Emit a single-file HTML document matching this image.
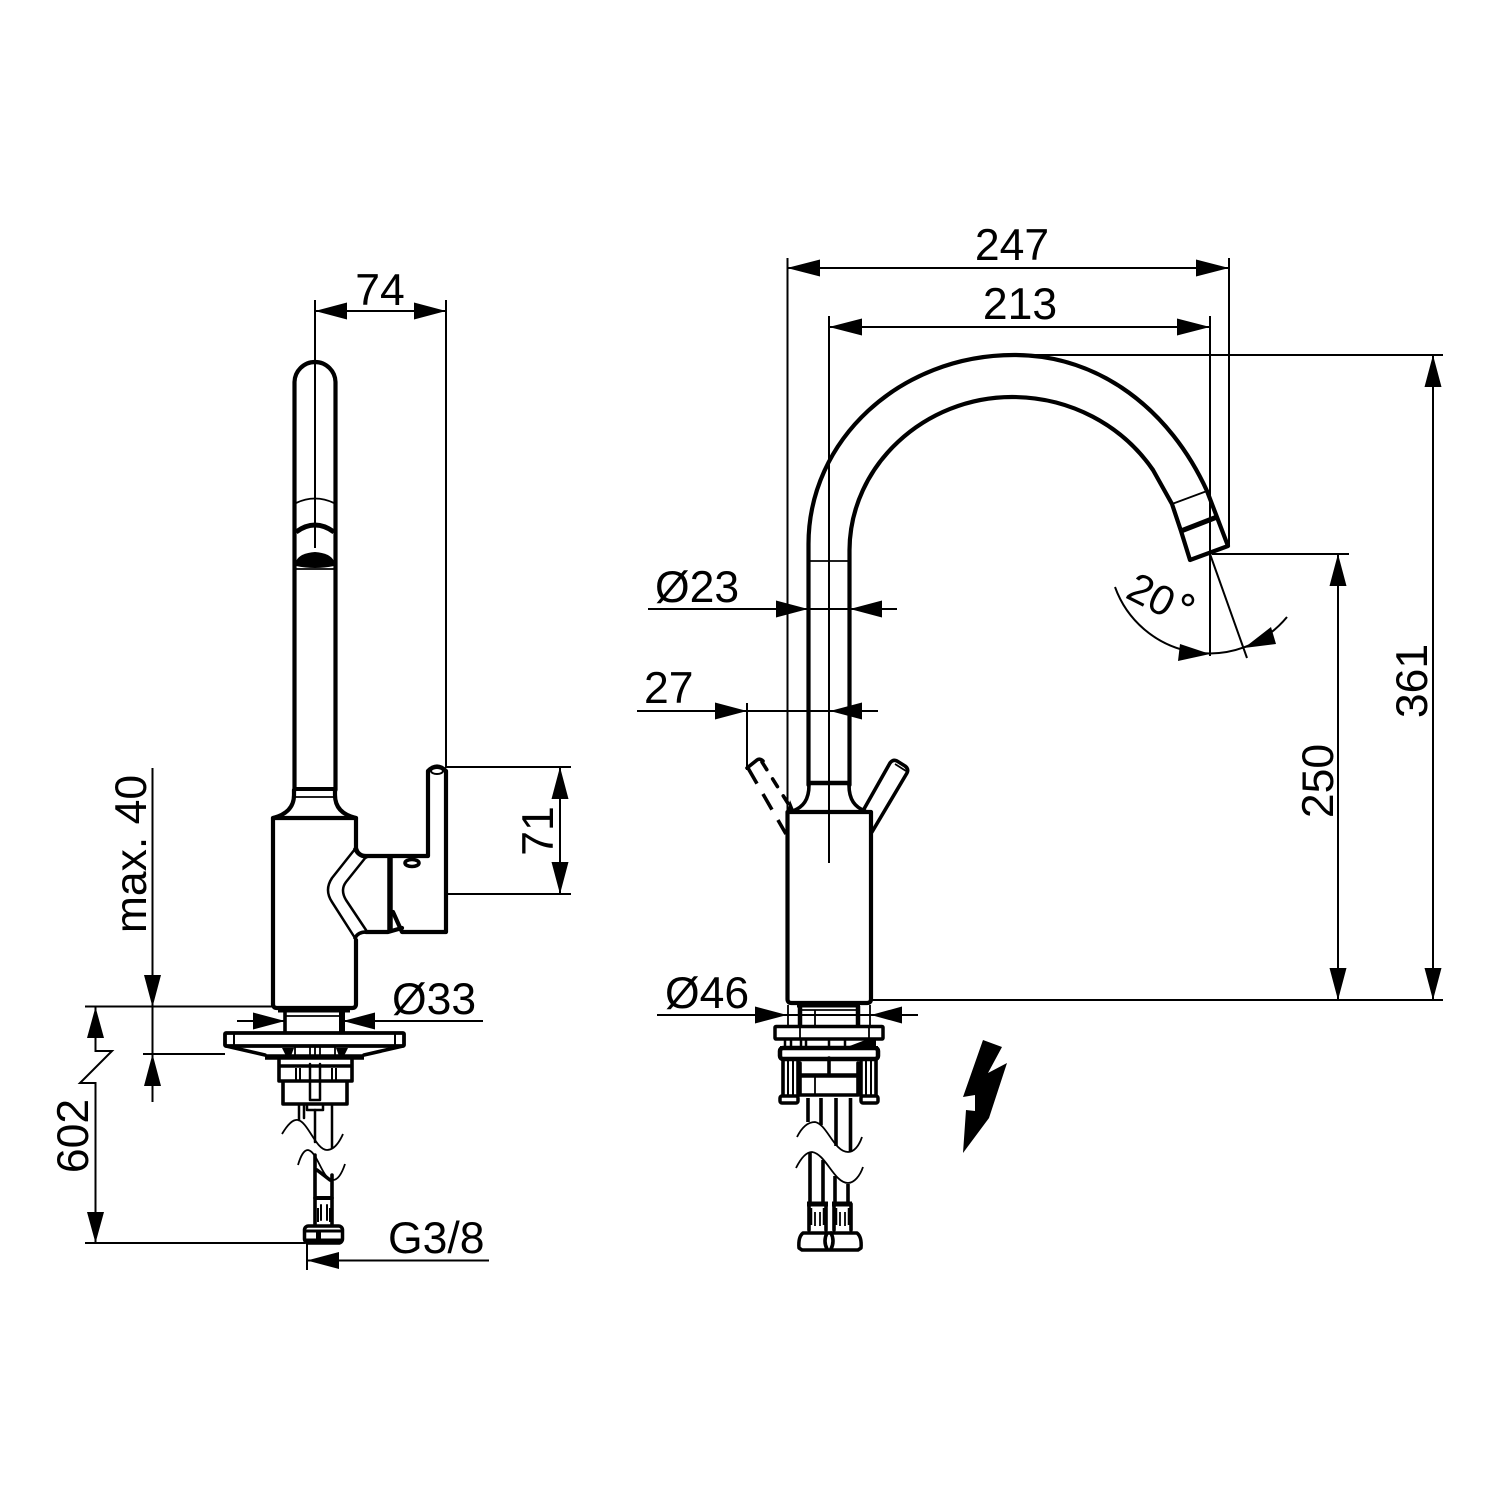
<!DOCTYPE html>
<html><head><meta charset="utf-8"><style>
html,body{margin:0;padding:0;background:#fff}
svg{display:block}
text{font-family:"Liberation Sans",sans-serif;font-size:44.500px;fill:#000}
.t{fill:none;stroke:#000;stroke-width:2}
.m{fill:none;stroke:#000;stroke-width:3.600;stroke-linejoin:round;stroke-linecap:round}
.w{fill:none;stroke:#000;stroke-width:1.800}
.a{fill:#000;stroke:none}
</style></head><body>
<svg width="1500" height="1500" viewBox="0 0 1500 1500" xmlns="http://www.w3.org/2000/svg">
<rect width="1500" height="1500" fill="#fff"/>

<!-- LEFT VIEW -->
<path class="m" style="stroke-width:4.200" d="M294.500 790V382.500a20.500 20.500 0 0 1 41 0V790"/>
<path class="t" d="M315 300V548"/>
<path class="w" d="M296 503Q315 494 334 503"/>
<path d="M296 532Q315 518 334 532" fill="none" stroke="#000" stroke-width="5"/>
<path class="a" d="M296 561Q300 553 315 552Q330 553 334 561L334 566Q315 570 296 566Z"/>
<path class="w" d="M296 569H334"/>
<path d="M294 789H335" stroke="#000" stroke-width="4"/>
<path class="w" d="M294 797H335"/>
<path class="m" style="stroke-width:4.200" d="M294 790V795C294 808 285 815 273 818M335 790V795C335 808 343 815 356 818"/>
<path class="m" style="stroke-width:4.200" d="M273 1004V818H356V848Q358 856 366 856H428V771Q437 762 446 771V932H402L393 912M366 932H388L402 928"/>
<path class="m" style="stroke-width:4.200" d="M356 940V1004Q356 1008 352 1008H277Q273 1008 273 1004"/>
<path d="M390 856V931" stroke="#000" stroke-width="5.500"/>
<ellipse cx="437" cy="771" rx="6" ry="3" class="t"/>
<ellipse cx="412" cy="863" rx="7" ry="3.500" class="m"/>
<path class="m" style="stroke-width:2.500" d="M355 849L332 878Q324 890 332 902L355 938M366 857L346 882Q340 890 346 900L366 930"/>
<path class="m" d="M355 849Q358 856 366 857M355 938Q358 932 366 932"/>

<!-- left base -->
<path d="M278 1010H350" stroke="#000" stroke-width="5"/>
<path class="m" d="M285 1010V1033"/>
<path d="M342 1012V1033" stroke="#000" stroke-width="6"/>
<path class="w" d="M286 1016H342"/>
<rect x="225" y="1033" width="179" height="13" rx="1" fill="#fff" stroke="#000" stroke-width="3.800"/>
<path class="t" d="M234 1033V1046M395 1033V1046"/>
<path class="m" d="M226 1046L265 1055M403 1046L364 1055"/>
<path d="M265 1057H364" stroke="#000" stroke-width="5.500"/>
<path class="a" d="M282 1048H294L291 1056H286ZM336 1048H348L344 1056H339Z"/>
<path class="w" d="M295 1047V1056M310 1047V1056M315 1047V1056M320 1047V1056M335 1047V1056"/>
<path class="m" d="M279 1060V1081H352V1060M283 1081V1104H347V1081"/>
<path d="M279 1066H352" stroke="#000" stroke-width="3.500"/>
<path class="t" d="M296 1068V1081M300 1068V1081M332 1068V1081M336 1068V1081"/>
<path class="m" style="stroke-width:2.500" d="M310 1064V1100H320V1064M307 1104V1110H323V1104"/>
<path class="m" style="stroke-width:2.500" d="M299 1105V1120M304 1105V1118M315 1110V1142M332 1105V1148"/>
<path class="w" d="M282 1134C288 1124 293 1119 298 1120C308 1122 316 1150 327 1150C334 1150 339 1143 343 1134"/>
<path class="m" d="M315 1155V1198M332 1175V1198M317 1170L330 1180"/>
<path class="w" d="M298 1165C301 1155 304 1150 308 1150C318 1152 322 1180 333 1180C338 1180 342 1173 345 1164"/>
<path d="M314 1198H333" stroke="#000" stroke-width="4"/>
<path class="m" d="M315 1198V1224M332 1198V1224"/>
<path class="m" style="stroke-width:2" d="M321 1205V1220M327 1205V1220"/>
<path d="M317 1208H319V1222H317ZM329 1208H331V1222H329Z" class="a"/>
<rect x="304.500" y="1226" width="38" height="17" rx="4" fill="#fff" stroke="#000" stroke-width="3.500"/>
<path d="M305 1231H342M305 1240H342" stroke="#000" stroke-width="3"/>
<path class="a" d="M316 1230H321V1241H316Z"/>

<!-- left dims -->
<path class="t" d="M315 311H446M446 300V768M446 767H571M446 894H571M560 767V894"/>
<path class="a" d="M315 311L347 302.500V319.500ZM446 311L414 302.500V319.500ZM560 767L551.500 799H568.500ZM560 894L551.500 862H568.500Z"/>
<text x="380" y="305" text-anchor="middle">74</text>
<text transform="translate(553 831) rotate(-90)" text-anchor="middle">71</text>
<text transform="translate(146 854) rotate(-90)" text-anchor="middle">max. 40</text>
<path class="t" d="M85 1006.500H273M143 1054H225M152.500 768V1102"/>
<path class="a" d="M152.500 1007L144 975H161ZM152.500 1054L144 1086H161Z"/>
<path class="t" d="M95.500 1007V1051H112L80 1083H95.500V1243M85 1243H305M307 1243V1270"/>
<path class="a" d="M95.500 1007L87 1038H104ZM95.500 1243L87 1212H104Z"/>
<text transform="translate(88 1136) rotate(-90)" text-anchor="middle">602</text>
<text x="388" y="1253">G3/8</text>
<path class="t" d="M307 1260.500H489"/>
<path class="a" d="M307 1260.500L339 1252V1269Z"/>
<text x="392" y="1014">Ø33</text>
<path class="t" d="M237 1021H285M343 1021H483"/>
<path class="a" d="M285 1021L253 1012.500V1029.500ZM343 1021L375 1012.500V1029.500Z"/>

<!-- RIGHT VIEW -->
<path class="m" style="stroke-width:4.200" d="M808.500 785V545C808 440 900 355 1014 355C1100 355 1170 410 1207 491L1228 546L1190 560L1181 531L1172 504L1153 470C1122 425 1070 397 1012 397C925 397 850 465 849.500 550V785"/>
<path class="w" d="M809 561H849"/>
<path class="w" d="M1172 504L1207 491"/>
<path d="M1181 531L1217 517" stroke="#000" stroke-width="5"/>
<path d="M808 783H850" stroke="#000" stroke-width="4.500"/>
<path class="m" d="M809 785C809 800 803 807 793 811M849 785C849 800 855 807 865 811"/>
<path class="m" style="stroke-width:4.200" d="M787.500 812H871V999Q871 1003 867 1003H791.500Q787.500 1003 787.500 999Z"/>
<path class="m" d="M864 809L890 763Q893 759 897 761L905 766Q909 769 907 773L872 832"/>
<path class="w" d="M895 764L906 771"/>
<path class="m" stroke-dasharray="9 11" d="M762 762L789 805"/>
<path class="m" d="M747 768L757 760Q760 758 763 761"/>
<path class="m" stroke-dasharray="18 12" style="stroke-linecap:butt" d="M748 768L786 834"/>
<path d="M790 800L794 810H788Z" class="a"/>

<!-- right dims -->
<path class="t" d="M787.500 258V812M1229 258V546M787 268H1229M829 316V863M1210 316V656M829 327H1210"/>
<path class="a" d="M787 268L820 259.500V276.500ZM1229 268L1196 259.500V276.500ZM829 327L862 318.500V335.500ZM1210 327L1177 318.500V335.500Z"/>
<text x="1012" y="260" text-anchor="middle">247</text>
<text x="1020" y="319" text-anchor="middle">213</text>
<path class="t" d="M1014 355H1443M871 1000H1443M1433 355V1000M1212 554H1349M1338 554V1000"/>
<path class="a" d="M1433 355L1424.500 387H1441.500ZM1433 1000L1424.500 968H1441.500ZM1338 554L1329.500 586H1346.500ZM1338 1000L1329.500 968H1346.500Z"/>
<text transform="translate(1427 681) rotate(-90)" text-anchor="middle">361</text>
<text transform="translate(1333 781) rotate(-90)" text-anchor="middle">250</text>
<text x="655" y="602">Ø23</text>
<path class="t" d="M648 609H897"/>
<path class="a" d="M808 609L776 600.500V617.500ZM850 609L882 600.500V617.500Z"/>
<text x="644" y="703">27</text>
<path class="t" d="M637 711H878M747 703V770"/>
<path class="a" d="M747 711L715 702.500V719.500ZM830 711L862 702.500V719.500Z"/>
<text x="665" y="1008">Ø46</text>
<path class="t" d="M657 1015H918"/>
<path class="a" d="M787 1015L755 1006.500V1023.500ZM871 1015L902 1006.500V1023.500Z"/>
<path class="t" d="M1210 554L1247 658"/>
<path class="t" d="M1115 587A100.500 100.500 0 0 0 1287 617"/>
<path class="a" d="M1210 654L1178 661L1180 644ZM1244 648L1271 627L1276 644Z"/>
<text transform="translate(1124 597) rotate(27)" style="font-size:42px">20</text>
<circle cx="1188" cy="600" r="5" fill="none" stroke="#000" stroke-width="2.500"/>

<!-- right base -->
<path d="M797 1005H860" stroke="#000" stroke-width="5"/>
<path d="M800 1006V1026M858 1006V1026" stroke="#000" stroke-width="4.500"/>
<path class="w" d="M802 1010H857M815 1010V1026"/>
<path class="w" d="M788 1005V1026M870 1005V1026"/>
<rect x="775" y="1026.500" width="108" height="12.500" rx="1" fill="#fff" stroke="#000" stroke-width="3.500"/>
<path class="w" d="M800 1027V1039M869 1027V1039"/>
<rect x="780" y="1048" width="98" height="11" rx="3" fill="#fff" stroke="#000" stroke-width="4.500"/>
<path d="M780 1048H878" stroke="#000" stroke-width="4"/>
<path class="a" d="M847 1047L868 1039H876V1048Z"/>
<path d="M785 1039V1047M791 1039V1047M801 1039V1047M806 1039V1047M829 1039V1047M845 1039V1047" stroke="#000" stroke-width="2.500"/>
<path class="m" d="M783 1060V1096M876 1060V1096M798 1060V1096M861 1060V1096"/>
<path class="t" d="M788 1060V1096M793 1060V1096M866 1060V1096M871 1060V1096"/>
<path class="m" d="M800 1063V1075H858V1063M800 1077V1095H858V1077M829 1058V1073"/>
<path d="M799 1076H859" stroke="#000" stroke-width="3.500"/>
<path class="w" d="M815 1076V1095"/>
<rect x="780" y="1096" width="18" height="7" rx="2" fill="#fff" stroke="#000" stroke-width="3.500"/>
<rect x="861" y="1096" width="17" height="7" rx="2" fill="#fff" stroke="#000" stroke-width="3.500"/>
<path class="m" style="stroke-linecap:butt" d="M808 1098V1122M821 1098V1125M836 1098V1146M850.500 1098V1151"/>
<path class="w" d="M797 1137C802 1127 808 1122 815 1122C827 1124 834 1152 848 1152C854 1152 859 1146 862 1137"/>
<path class="w" d="M796 1168C801 1158 806 1152 812 1152C826 1154 834 1183 848 1183C854 1183 860 1176 863 1167"/>
<path class="m" style="stroke-linecap:butt" d="M810 1153V1203M823 1160V1203M835 1176V1203M848 1184V1203"/>
<path d="M807 1204H828M832 1204H852" stroke="#000" stroke-width="5"/>
<path class="m" d="M809 1204V1230M826 1204V1230M834 1204V1230M851 1204V1230"/>
<path class="w" d="M815 1212V1226M820 1212V1226M840 1212V1226M845 1212V1226"/>
<path d="M811 1208V1225M824 1208V1225M836 1208V1225M849 1208V1225" stroke="#000" stroke-width="2.500"/>
<path class="m" style="stroke-width:3.500" d="M803 1233H857Q862 1237 861 1248L858 1250H802L799 1248Q798 1237 803 1233Z"/>
<path class="m" d="M827 1233Q823 1241 827 1249M831 1233Q835 1241 831 1249"/>

<!-- bolt -->
<path class="a" d="M983 1040L1002 1047L988 1073L1007 1063L989 1118L963 1153L966 1110L975 1111L975 1095L963 1097Z"/>
</svg>
</body></html>
